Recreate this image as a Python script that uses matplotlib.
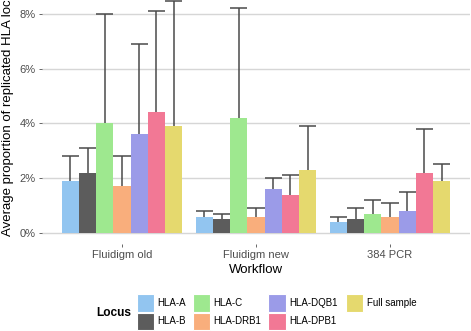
import numpy as np
import matplotlib
matplotlib.use("Agg")
import matplotlib.pyplot as plt
from matplotlib.patches import Rectangle
from matplotlib.ticker import FuncFormatter

plt.rcParams["font.family"] = ["Liberation Sans", "DejaVu Sans"]

workflows = ["Fluidigm old", "Fluidigm new", "384 PCR"]
loci = ["HLA-A", "HLA-B", "HLA-C", "HLA-DRB1", "HLA-DQB1", "HLA-DPB1", "Full sample"]

# mean proportion (%) per workflow, one list per locus
hla_a = [1.9, 0.6, 0.4]
hla_b = [2.2, 0.5, 0.5]
hla_c = [4.0, 4.2, 0.7]
hla_drb1 = [1.7, 0.6, 0.6]
hla_dqb1 = [3.6, 1.6, 0.8]
hla_dpb1 = [4.4, 1.4, 2.2]
full_sample = [3.9, 2.3, 1.9]

# top of error bar (%)
hla_a_hi = [2.8, 0.8, 0.6]
hla_b_hi = [3.1, 0.7, 0.9]
hla_c_hi = [8.0, 8.2, 1.2]
hla_drb1_hi = [2.8, 0.9, 1.1]
hla_dqb1_hi = [6.9, 2.0, 1.5]
hla_dpb1_hi = [8.1, 2.1, 3.8]
full_sample_hi = [8.47, 3.9, 2.5]

means = [hla_a, hla_b, hla_c, hla_drb1, hla_dqb1, hla_dpb1, full_sample]
uppers = [hla_a_hi, hla_b_hi, hla_c_hi, hla_drb1_hi, hla_dqb1_hi, hla_dpb1_hi, full_sample_hi]
colors = ["#92c5f0", "#5c5c5c", "#9ee88f", "#f9ae7c", "#9b9be8", "#f27895", "#e5d96e"]

W, H = 471, 331
fig = plt.figure(figsize=(W / 100, H / 100), dpi=100)
ax = fig.add_axes([41.6 / W, 87 / H, 428.8 / W, 244 / H])

x = np.arange(1, len(workflows) + 1)
n = len(loci)
bw = 0.9 / n
for i in range(n):
    pos = x - 0.45 + bw * (i + 0.5)
    ax.bar(pos, means[i], width=bw, color=colors[i], edgecolor="none", zorder=2)
    ax.vlines(pos, means[i], uppers[i], color="#4a4a4a", lw=1.1, zorder=3)
    ax.hlines(uppers[i], pos - bw / 2, pos + bw / 2, color="#4a4a4a", lw=1.1, zorder=3)

ax.set_xlim(0.4, 3.6)
ax.set_ylim(-0.40, 8.5)
ax.set_yticks([0, 2, 4, 6, 8])
ax.yaxis.set_major_formatter(FuncFormatter(lambda v, p: f"{v:.0f}%"))
ax.set_xticks(x)
ax.set_xticklabels(workflows)
ax.grid(axis="y", color="#d6d6d6", lw=1.0, zorder=0)
ax.set_axisbelow(True)
for s in ax.spines.values():
    s.set_visible(False)
ax.tick_params(axis="both", length=2.5, width=0.6, color="#4d4d4d",
               labelcolor="#4d4d4d", labelsize=8, pad=2)
ax.set_xlabel("Workflow", fontsize=9.5, labelpad=3)

fig.text(8 / W, 1 - 116 / H, "Average proportion of replicated HLA loci",
         rotation=90, ha="center", va="center", fontsize=9.5)

# legend laid out by hand: 2 rows, filled column by column
col_x = [136.7, 192.7, 268.3, 345.7]
row_y = [294.3, 312.7]
key = 17.6
for i, (lab, c) in enumerate(zip(loci, colors)):
    kx, ky = col_x[i // 2], row_y[i % 2]
    fig.patches.append(Rectangle((kx / W, 1 - (ky + key) / H), key / W, key / H,
                                 transform=fig.transFigure, facecolor=c,
                                 edgecolor="white", lw=0.8))
    fig.text((kx + key + 3.4) / W, 1 - (ky + key / 2) / H, lab, fontsize=7,
             ha="left", va="center")
fig.text(96 / W, 1 - 313 / H, "Locus", fontsize=8.6, fontweight="bold",
         ha="left", va="center")

fig.savefig("out.png", dpi=100, facecolor="white")
